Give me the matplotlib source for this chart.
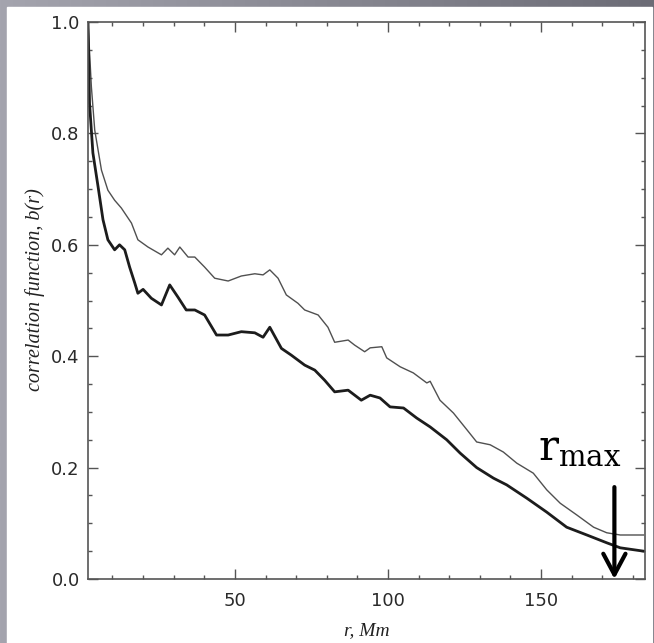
import numpy as np
import matplotlib
matplotlib.use("Agg")
import matplotlib.pyplot as plt
from matplotlib.ticker import MultipleLocator, FormatStrFormatter

plt.rcParams['mathtext.fontset'] = 'dejavuserif'

# upper (thin) curve
r_upper = [2.0, 3.1, 4.2, 6.4, 8.5, 10.7, 12.9, 16.2, 18.3, 21.6, 26.0, 28.1, 30.3, 32.0,
           34.7, 36.9, 40.1, 43.4, 47.8, 52.1, 56.5, 59.2, 61.4, 64.1, 66.8, 70.6, 72.8,
           77.2, 80.4, 82.6, 87.0, 89.1, 92.4, 94.2, 98.0, 99.6, 104.0, 108.3, 112.7,
           113.8, 117.0, 121.4, 125.8, 129.0, 133.4, 137.7, 142.1, 147.5, 151.9, 156.3,
           161.7, 167.2, 171.5, 175.9, 183.5]
b_upper = [1.000, 0.884, 0.806, 0.734, 0.698, 0.680, 0.666, 0.639, 0.609, 0.596, 0.582,
           0.594, 0.582, 0.596, 0.578, 0.578, 0.560, 0.540, 0.535, 0.544, 0.548, 0.546,
           0.555, 0.540, 0.510, 0.495, 0.483, 0.474, 0.452, 0.425, 0.429, 0.420, 0.408,
           0.415, 0.417, 0.397, 0.381, 0.370, 0.352, 0.355, 0.321, 0.298, 0.268, 0.246,
           0.241, 0.228, 0.208, 0.190, 0.160, 0.136, 0.115, 0.093, 0.083, 0.079, 0.079]

# lower (thick) curve
r_lower = [2.0, 2.5, 3.6, 5.3, 6.9, 8.5, 10.7, 12.3, 14.0, 15.6, 17.3, 18.3, 20.0, 22.7,
           26.0, 28.7, 31.4, 34.1, 36.9, 40.1, 44.0, 47.8, 52.1, 56.5, 59.2, 61.4, 65.2,
           68.4, 72.8, 76.1, 79.3, 82.6, 87.0, 91.3, 94.2, 97.4, 100.7, 105.1, 109.4,
           113.8, 119.2, 123.6, 129.0, 134.5, 138.8, 145.4, 151.9, 158.4, 165.0, 171.5,
           175.9, 183.5]
b_lower = [1.000, 0.854, 0.765, 0.704, 0.645, 0.609, 0.591, 0.600, 0.591, 0.560, 0.531,
           0.513, 0.520, 0.504, 0.492, 0.528, 0.506, 0.483, 0.483, 0.474, 0.438, 0.438,
           0.444, 0.442, 0.434, 0.452, 0.414, 0.402, 0.384, 0.375, 0.357, 0.336, 0.339,
           0.321, 0.330, 0.325, 0.309, 0.307, 0.289, 0.273, 0.250, 0.226, 0.200, 0.181,
           0.169, 0.145, 0.120, 0.093, 0.079, 0.065, 0.056, 0.050]

r_max = 174.0

fig = plt.figure(figsize=(6.54, 6.43), dpi=100)

# grey slide background with a white card
bg = fig.add_axes([0, 0, 1, 1])
grad = np.linspace(0, 1, 256).reshape(1, -1)
bg.imshow(grad, aspect='auto', cmap=matplotlib.colors.LinearSegmentedColormap.from_list(
    'g', ['#a4a4ae', '#6c6c76']), extent=[0, 1, 0, 1])
bg.add_patch(plt.Rectangle((7 / 654, 0), 645 / 654, 636 / 643, color='white'))
bg.set_xlim(0, 1)
bg.set_ylim(0, 1)
bg.axis('off')

ax = fig.add_axes([88 / 654, 64 / 643, 557 / 654, 557 / 643])
ax.plot(r_upper, b_upper, color='#505050', lw=1.0)
ax.plot(r_lower, b_lower, color='#1c1c1c', lw=2.0)

ax.set_xlim(2, 184)
ax.set_ylim(0, 1.0)
ax.xaxis.set_major_locator(MultipleLocator(50))
ax.xaxis.set_minor_locator(MultipleLocator(10))
ax.yaxis.set_major_locator(MultipleLocator(0.2))
ax.yaxis.set_minor_locator(MultipleLocator(0.05))
ax.yaxis.set_major_formatter(FormatStrFormatter('%.1f'))
ax.tick_params(which='both', direction='in', top=True, right=True, color='#555555',
               width=1.0, labelsize=13, labelcolor='#2a2a2a')
ax.tick_params(which='major', length=7)
ax.tick_params(which='minor', length=3)
ax.tick_params(axis='x', pad=9)
ax.tick_params(axis='y', pad=6)
for s in ax.spines.values():
    s.set_color('#555555')
    s.set_linewidth(1.2)

ax.text(0.5, -0.092, 'r, Mm', transform=ax.transAxes, ha='center', va='center',
        family='Liberation Serif', style='italic', fontsize=14, color='#222222')
ax.text(-0.095, 0.52, 'correlation function, b(r)', transform=ax.transAxes,
        ha='center', va='center', rotation=90, family='Liberation Serif',
        style='italic', fontsize=14.5, color='#222222')

# r_max marker
ax.annotate('', xy=(r_max, 0.0), xytext=(r_max, 0.165),
            arrowprops=dict(arrowstyle='->,head_length=0.75,head_width=0.4',
                            lw=3, color='black', shrinkA=0, shrinkB=0,
                            mutation_scale=20),
            annotation_clip=False)
ax.text(149, 0.214, r'$\mathrm{r}_{\mathrm{max}}$', fontsize=30, ha='left',
        va='baseline', color='black')

fig.savefig('out.png', dpi=100)
